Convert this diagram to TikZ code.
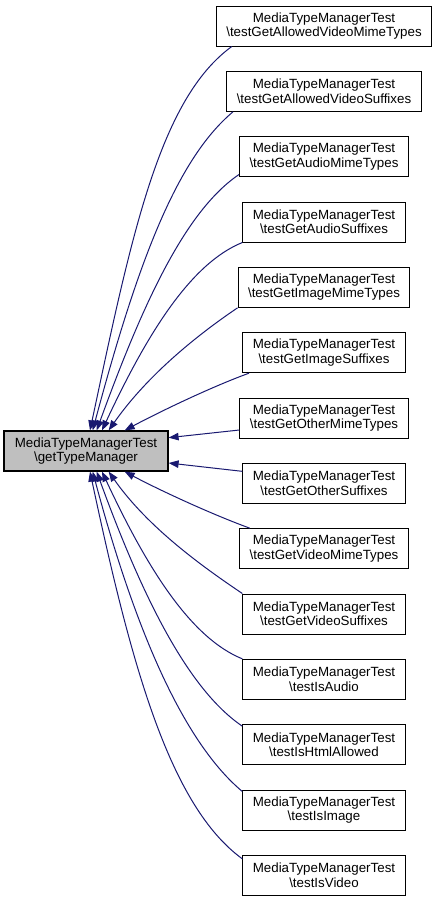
\documentclass[tikz,border=0pt]{standalone}
\usepackage{fontspec}
\setmainfont{Liberation Sans}
\usepackage{tikz}
\usepackage{xcolor}
\usetikzlibrary{arrows.meta, positioning}

\definecolor{edgeblue}{HTML}{191970}
\definecolor{focusgray}{HTML}{BFBFBF}

\begin{document}
\begin{tikzpicture}[
    x=0.75pt, y=0.75pt,
    node distance=18.25pt,
    caller/.style={rectangle, draw=black, line width=0.75pt, fill=white, align=center,
                   inner xsep=7.5pt, inner ysep=2pt, minimum height=30pt,
                   font=\fontsize{10}{10.7}\selectfont},
    focus/.style={caller, fill=focusgray, line width=0.9pt, minimum width=123pt},
    call/.style={-{Triangle[length=7.5pt, width=5.6pt]}, edgeblue, line width=0.75pt}
]
\useasboundingbox (0,0) rectangle (437,-901);

% ---- Focus function (left) ----
\node[focus] (typemgr) at (86,-451) {MediaTypeManagerTest\\\textbackslash getTypeManager};

% ---- Callers (right column) ----
\node[caller] (allowedmime) at (324,-26) {MediaTypeManagerTest\\\textbackslash testGetAllowedVideoMimeTypes};
\node[caller, below=of allowedmime]   (allowedsuffix) {MediaTypeManagerTest\\\textbackslash testGetAllowedVideoSuffixes};
\node[caller, below=of allowedsuffix] (audiomime)     {MediaTypeManagerTest\\\textbackslash testGetAudioMimeTypes};
\node[caller, below=of audiomime]     (audiosuffix)   {MediaTypeManagerTest\\\textbackslash testGetAudioSuffixes};
\node[caller, below=of audiosuffix]   (imagemime)     {MediaTypeManagerTest\\\textbackslash testGetImageMimeTypes};
\node[caller, below=of imagemime]     (imagesuffix)   {MediaTypeManagerTest\\\textbackslash testGetImageSuffixes};
\node[caller, below=of imagesuffix]   (othermime)     {MediaTypeManagerTest\\\textbackslash testGetOtherMimeTypes};
\node[caller, below=of othermime]     (othersuffix)   {MediaTypeManagerTest\\\textbackslash testGetOtherSuffixes};
\node[caller, below=of othersuffix]   (videomime)     {MediaTypeManagerTest\\\textbackslash testGetVideoMimeTypes};
\node[caller, below=of videomime]     (videosuffix)   {MediaTypeManagerTest\\\textbackslash testGetVideoSuffixes};
\node[caller, below=of videosuffix]   (isaudio)       {MediaTypeManagerTest\\\textbackslash testIsAudio};
\node[caller, below=of isaudio]       (ishtml)        {MediaTypeManagerTest\\\textbackslash testIsHtmlAllowed};
\node[caller, below=of ishtml]        (isimage)       {MediaTypeManagerTest\\\textbackslash testIsImage};
\node[caller, below=of isimage]       (isvideo)       {MediaTypeManagerTest\\\textbackslash testIsVideo};

% ======== Calls into the top of typemgr ========
\draw[call] ([xshift=12pt]allowedmime.south west) .. controls +(216:67pt) and +(78:150pt) .. ([xshift=3pt]typemgr.north);
\draw[call] ([xshift=5pt]allowedsuffix.south west) .. controls +(220:56pt) and +(75:128pt) .. ([xshift=5pt]typemgr.north);
\draw[call] ([yshift=2pt]audiomime.south west) .. controls +(214:49pt) and +(70:100pt) .. ([xshift=8pt]typemgr.north);
\draw[call] (audiosuffix.south west) .. controls +(202:41pt) and +(65:82pt) .. ([xshift=12pt]typemgr.north);
\draw[call] (imagemime.south west) .. controls +(214:34pt) and +(55:52pt) .. ([xshift=17pt]typemgr.north);
\draw[call] ([xshift=5pt]imagesuffix.south west) .. controls +(200:30pt) and +(28:30pt) .. ([xshift=29pt]typemgr.north);

% ======== Calls into the side ========
\draw[call] ([yshift=-9pt]othermime.west) -- ([yshift=10pt]typemgr.east);
\draw[call] ([yshift=9pt]othersuffix.west) -- ([yshift=-9pt]typemgr.east);

% ======== Calls into the bottom ========
\draw[call] ([xshift=8pt]videomime.north west) .. controls +(160:30pt) and +(332:30pt) .. ([xshift=29pt]typemgr.south);
\draw[call] (videosuffix.north west) .. controls +(146:34pt) and +(305:52pt) .. ([xshift=17pt]typemgr.south);
\draw[call] (isaudio.north west) .. controls +(158:41pt) and +(295:82pt) .. ([xshift=12pt]typemgr.south);
\draw[call] ([yshift=-1.5pt]ishtml.north west) .. controls +(146:49pt) and +(290:100pt) .. ([xshift=8pt]typemgr.south);
\draw[call] ([yshift=-1.5pt]isimage.north west) .. controls +(140:56pt) and +(285:128pt) .. ([xshift=5pt]typemgr.south);
\draw[call] ([yshift=-3pt]isvideo.north west) .. controls +(144:67pt) and +(282:150pt) .. ([xshift=3pt]typemgr.south);

\end{tikzpicture}
\end{document}
